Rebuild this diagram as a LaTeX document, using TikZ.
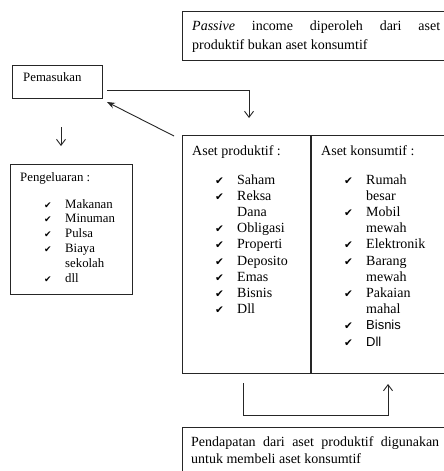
\documentclass[tikz,border=0pt]{standalone}
\usepackage{fontspec}
\setmainfont{Liberation Serif}
\newfontfamily\arialfont{Liberation Sans}
\newfontfamily\symfont{DejaVu Sans}
\usetikzlibrary{arrows.meta}
\newcommand{\bigfs}{\fontsize{14}{16}\selectfont}
\newcommand{\smallfs}{\fontsize{12.8}{14.8}\selectfont}
\tikzset{
  box/.style={draw=black!85, line width=1.2pt, inner sep=0pt, anchor=north west},
  conn/.style={draw=black!85, line width=0.9pt},
  openhead/.style={-{Straight Barb[length=6pt,width=9pt,line width=0.9pt]}},
  filledhead/.style={-{Stealth[length=8pt,width=6pt]}},
  txt/.style={inner sep=0pt, anchor=base west, font=\bigfs},
  stxt/.style={inner sep=0pt, anchor=base west, font=\smallfs},
  chk/.style={inner sep=0pt, anchor=base west, font=\symfont\fontsize{10.5}{10.5}\selectfont},
  schk/.style={inner sep=0pt, anchor=base west, font=\symfont\fontsize{9}{9}\selectfont},
}
\begin{document}
\begin{tikzpicture}[x=1pt,y=-1pt]
\useasboundingbox (0,0) rectangle (444,471);
\clip (0,0) rectangle (444,471);
\fill[white] (0,0) rectangle (444,471);

% boxes
\node[box, minimum width=268pt, minimum height=49pt] (passive) at (182,11) {};
\node[box, minimum width=90pt, minimum height=33pt] (pemasukan) at (12,65) {};
\node[box, minimum width=122pt, minimum height=130pt] (pengeluaran) at (10,164) {};
\node[box, minimum width=268pt, minimum height=238pt] (aset) at (182,135) {};
\node[box, minimum width=268pt, minimum height=60pt] (pendapatan) at (182,427) {};
\draw[draw=black!85, line width=1.2pt] (311,135) -- (311,373);

% top box text
\node[txt] (p1) at (192,30) {\makebox[248pt][s]{\textit{Passive} income diperoleh dari aset}};
\node[txt] (p2) at (192,49) {produktif bukan aset konsumtif};

% Pemasukan
\node[stxt] (t-pem) at (23,81) {Pemasukan};

% Pengeluaran
\node[stxt] (t-peng) at (20,181) {Pengeluaran :};
\foreach \y/\w [count=\i] in {208/Makanan,222.8/Minuman,237.6/Pulsa,252.4/Biaya,282/dll}{
  \node[schk] (gc\i) at (44,\y) {✔};
  \node[stxt] (g\i) at (65,\y) {\w};
}
\node[stxt] (g-sek) at (65,267.2) {sekolah};

% Aset produktif
\node[txt] (t-prod) at (192,155) {Aset produktif :};
\foreach \k/\w [count=\i] in {0/Saham,1/Reksa,3/Obligasi,4/Properti,5/Deposito,6/Emas,7/Bisnis,8/Dll}{
  \node[chk] (pc\i) at (215,184+16.2*\k) {✔};
  \node[txt] (pi\i) at (237,184+16.2*\k) {\w};
}
\node[txt] (pi-dana) at (237,216.4) {Dana};

% Aset konsumtif
\node[txt] (t-kons) at (321,155) {Aset konsumtif :};
\foreach \k/\w [count=\i] in {0/Rumah,2/Mobil,4/Elektronik,5/Barang,7/Pakaian}{
  \node[chk] (kc\i) at (344,184+16.2*\k) {✔};
  \node[txt] (ki\i) at (366,184+16.2*\k) {\w};
}
\node[txt] (k-besar) at (366,200.2) {besar};
\node[txt] (k-mewah1) at (366,232.6) {mewah};
\node[txt] (k-mewah2) at (366,281.2) {mewah};
\node[txt] (k-mahal) at (366,313.6) {mahal};
\node[chk] (kc6) at (344,329.8) {✔};
\node[txt, font=\arialfont\fontsize{13}{15}\selectfont] (k-bisnis) at (366,329.8) {Bisnis};
\node[chk] (kc7) at (344,346) {✔};
\node[txt, font=\arialfont\fontsize{13}{15}\selectfont] (k-dll) at (366,346) {Dll};

% bottom box text
\node[txt] (b1) at (191,446) {\makebox[248pt][s]{Pendapatan dari aset produktif digunakan}};
\node[txt] (b2) at (191,463) {untuk membeli aset konsumtif};

% connectors
\coordinate (a1s) at (107,90);
\coordinate (a1e) at (249,118);
\draw[conn, openhead] (a1s) -| (a1e);
\coordinate (a2s) at (174,136);
\coordinate (a2e) at (107,102);
\draw[conn, filledhead] (a2s) -- (a2e);
\coordinate (a3s) at (61,127);
\coordinate (a3e) at (61,146);
\draw[conn, openhead] (a3s) -- (a3e);
\coordinate (a4s) at (243,383);
\coordinate (a4c) at (388,415);
\coordinate (a4e) at (388,384);
\draw[conn, openhead] (a4s) |- (a4c) -- (a4e);
\end{tikzpicture}
\end{document}
